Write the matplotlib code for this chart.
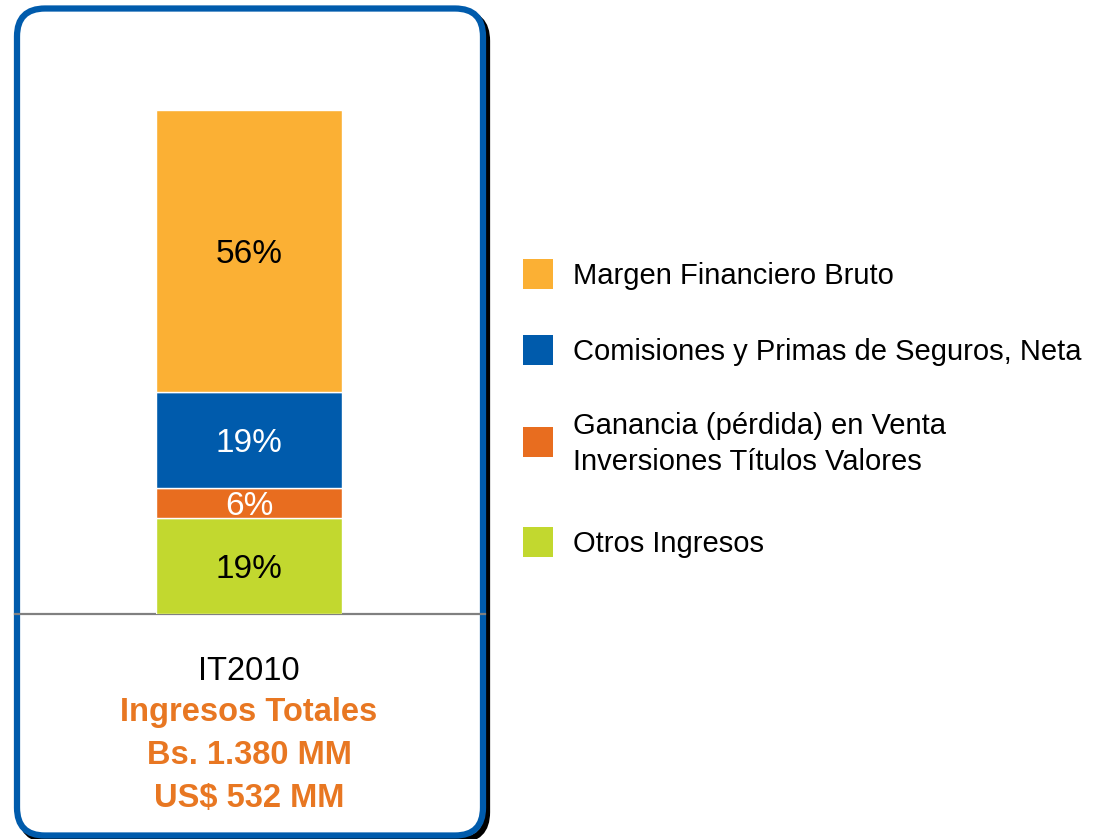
import matplotlib
matplotlib.use('Agg')
import matplotlib.pyplot as plt
from matplotlib.patches import FancyBboxPatch, Rectangle

plt.rcParams['font.family'] = ['Liberation Sans', 'DejaVu Sans']

# Data
categories = ['Otros Ingresos',
              'Ganancia (pérdida) en Venta\nInversiones Títulos Valores',
              'Comisiones y Primas de Seguros, Neta',
              'Margen Financiero Bruto']
shares = [19, 6, 19, 56]
bar_colors = ['#C2D82F', '#E86D1F', '#005BAC', '#FBB034']
label_colors = ['black', 'white', 'white', 'black']
period = 'IT2010'
summary_lines = ['Ingresos Totales', 'Bs. 1.380 MM', 'US$ 532 MM']

W, H = 1100, 839
fig = plt.figure(figsize=(W / 100, H / 100), dpi=100)

# background axes in pixel units
bg = fig.add_axes([0, 0, 1, 1])
bg.set_xlim(0, W)
bg.set_ylim(H, 0)
bg.axis('off')

# shadow + rounded frame
shadow = FancyBboxPatch((21, 13), 466, 827, boxstyle='round,pad=0,rounding_size=28',
                        facecolor='none', edgecolor='black', linewidth=4.5)
bg.add_patch(shadow)
frame = FancyBboxPatch((17, 8.5), 466, 827, boxstyle='round,pad=0,rounding_size=28',
                       facecolor='white', edgecolor='#005BAC', linewidth=4.5)
bg.add_patch(frame)
bg.plot([15, 485], [614, 614], color='#808080', linewidth=1.6)

# stacked bar
ax = fig.add_axes([156 / W, (H - 614) / H, 186 / W, 504 / H])
ax.set_xlim(-0.5, 0.5)
ax.set_ylim(0, sum(shares))
ax.axis('off')
bottom = 0
for val, col, tcol in zip(shares, bar_colors, label_colors):
    ax.bar(0, val, width=1, bottom=bottom, color=col, edgecolor='white', linewidth=1)
    ax.annotate(f'{val}%', (0, bottom + val / 2), xytext=(0, -3),
                textcoords='offset pixels', ha='center', va='center',
                fontsize=24, color=tcol)
    bottom += val

# caption under the bar
bg.text(249, 671, period, ha='center', va='center', fontsize=23.5, color='black')
for i, line in enumerate(summary_lines):
    bg.text(249, 712 + i * 43.5, line, ha='center', va='center', fontsize=23.5,
            color='#E87722', fontweight='bold')

# legend
legend_y = [542, 442, 350, 274]
for lab, col, y in zip(categories, bar_colors, legend_y):
    bg.add_patch(Rectangle((523, y - 15), 30, 30, facecolor=col, edgecolor='none'))
    bg.text(573, y + 2, lab, ha='left', va='center', fontsize=21, color='black',
            linespacing=1.38)

fig.savefig('out.png', dpi=100)
